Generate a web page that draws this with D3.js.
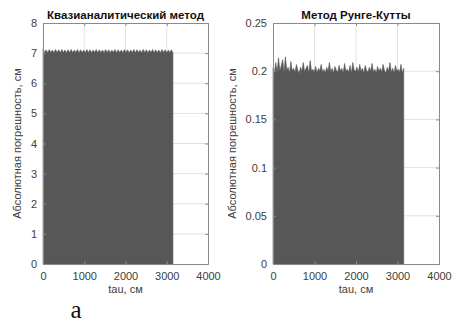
<!DOCTYPE html>
<html>
<head>
<meta charset="utf-8">
<script src="https://cdn.jsdelivr.net/npm/d3@7/dist/d3.min.js"></script>
<style>
  body { margin: 0; background: #fff; }
  svg { display: block; font-family: "Liberation Sans", Arial, sans-serif; }
</style>
</head>
<body>
<div class="container"></div>
<script>
// samples span tau = 0 .. tauEnd
const tauEnd = 3150;

// Квазианалитический метод: comb-like top edge
const quasiValues = [
  7.14, 7.02, 7.11, 7.01, 7.12, 7.02, 7.10, 7.01, 7.12, 7.02, 7.11, 7.01, 7.12, 7.02,
  7.10, 7.01, 7.11, 7.02, 7.12, 7.01, 7.10, 7.02, 7.12, 7.01, 7.11, 7.02, 7.10, 7.01,
  7.12, 7.02, 7.11, 7.01, 7.10, 7.02, 7.12, 7.01, 7.11, 7.02, 7.10, 7.01, 7.12, 7.02,
  7.11, 7.01, 7.10, 7.02, 7.12, 7.01, 7.11, 7.02, 7.10, 7.01, 7.12, 7.02, 7.11, 7.01,
  7.10, 7.02, 7.12, 7.01, 7.11, 7.02, 7.10, 7.01, 7.12, 7.02, 7.11, 7.01, 7.10, 7.02,
  7.12, 7.01, 7.11, 7.02, 7.10, 7.01, 7.12, 7.02, 7.11, 7.01, 7.10, 7.02, 7.11, 7.01
];

// Метод Рунге-Кутты: noisy top edge around 0.2
const rkValues = [
  0.203, 0.198, 0.209, 0.199, 0.214, 0.200, 0.206, 0.212, 0.199, 0.215, 0.201, 0.204,
  0.198, 0.210, 0.200, 0.203, 0.199, 0.207, 0.201, 0.198, 0.204, 0.200, 0.209, 0.199,
  0.203, 0.206, 0.198, 0.211, 0.200, 0.202, 0.199, 0.205, 0.198, 0.203, 0.200, 0.207,
  0.199, 0.202, 0.198, 0.204, 0.200, 0.209, 0.199, 0.203, 0.198, 0.205, 0.201, 0.199,
  0.206, 0.200, 0.203, 0.198, 0.208, 0.200, 0.202, 0.199, 0.206, 0.198, 0.209, 0.201,
  0.200, 0.204, 0.199, 0.207, 0.200, 0.203, 0.198, 0.206, 0.201, 0.199, 0.204, 0.200,
  0.208, 0.199, 0.202, 0.198, 0.205, 0.200, 0.203, 0.199, 0.207, 0.201, 0.198, 0.204,
  0.200, 0.209, 0.199, 0.203, 0.198, 0.206, 0.200, 0.202, 0.199, 0.207, 0.198, 0.203
];

const xTicks = [0, 1000, 2000, 3000, 4000];
const quasiTicks = [0, 1, 2, 3, 4, 5, 6, 7, 8];
const rkTicks = [0, 0.05, 0.1, 0.15, 0.2, 0.25];

const width = 454, height = 324;
const svg = d3.select('.container').append('svg')
  .attr('width', width)
  .attr('height', height);

function panel(opts) {
  const x = d3.scaleLinear().domain([0, 4000]).range([opts.left, opts.right]);
  const y = d3.scaleLinear().domain([0, opts.yMax]).range([264, 23]);
  const g = svg.append('g');

  // grid
  g.append('g').selectAll('line').data(xTicks.slice(1, -1)).join('line')
    .attr('x1', d => x(d)).attr('x2', d => x(d))
    .attr('y1', y(0)).attr('y2', y(opts.yMax))
    .attr('stroke', '#e2e2e2');
  g.append('g').selectAll('line').data(opts.yTicks.slice(1, -1)).join('line')
    .attr('x1', x(0)).attr('x2', x(4000))
    .attr('y1', d => y(d)).attr('y2', d => y(d))
    .attr('stroke', '#e2e2e2');

  // data
  const n = opts.values.length;
  const pts = opts.values.map((v, i) => [i * tauEnd / (n - 1), v]);
  const area = d3.area()
    .x(d => x(d[0]))
    .y0(y(0))
    .y1(d => y(d[1]))
    .curve(d3.curveLinear);
  g.append('path').datum(pts)
    .attr('d', area)
    .attr('fill', '#575757')
    .attr('stroke', '#575757')
    .attr('stroke-width', 0.6);

  // axes (MATLAB style, ticks inside)
  const xAxis = d3.axisBottom(x).tickValues(xTicks).tickSize(-3).tickPadding(8).tickFormat(d3.format('d'));
  const yAxis = d3.axisLeft(y).tickValues(opts.yTicks).tickSize(-3).tickPadding(6).tickFormat(opts.fmt);
  const xa = g.append('g').attr('transform', `translate(0,${y(0)})`).call(xAxis);
  const ya = g.append('g').attr('transform', `translate(${x(0)},0)`).call(yAxis);
  const xTop = g.append('g').attr('transform', `translate(0,${y(opts.yMax)})`)
    .call(d3.axisTop(x).tickValues(xTicks).tickSize(-3).tickFormat(''));
  const yRight = g.append('g').attr('transform', `translate(${x(4000)},0)`)
    .call(d3.axisRight(y).tickValues(opts.yTicks).tickSize(-3).tickFormat(''));
  [xa, ya, xTop, yRight].forEach(a => {
    a.selectAll('path').attr('stroke', '#8a8a8a');
    a.selectAll('line').attr('stroke', '#8a8a8a');
    a.selectAll('text').attr('fill', '#404040').attr('font-size', 11);
  });

  // labels
  g.append('text')
    .attr('x', (opts.left + opts.right) / 2).attr('y', 19)
    .attr('text-anchor', 'middle')
    .attr('font-size', 11.5).attr('font-weight', 'bold').attr('fill', '#111')
    .text(opts.title);
  g.append('text')
    .attr('x', (opts.left + opts.right) / 2).attr('y', 293)
    .attr('text-anchor', 'middle')
    .attr('font-size', 11).attr('fill', '#404040')
    .text('tau, см');
  g.append('text')
    .attr('transform', `translate(${opts.labelX},${(y(0) + y(opts.yMax)) / 2}) rotate(-90)`)
    .attr('text-anchor', 'middle')
    .attr('font-size', 11).attr('fill', '#404040')
    .text('Абсолютная погрешность, см');
}

panel({
  left: 43, right: 208, yMax: 8, values: quasiValues, yTicks: quasiTicks,
  fmt: d3.format('d'), title: 'Квазианалитический метод', labelX: 21
});
panel({
  left: 273, right: 439, yMax: 0.25, values: rkValues, yTicks: rkTicks,
  fmt: d => (d === 0 ? '0' : String(d)), title: 'Метод Рунге-Кутты', labelX: 236
});

svg.append('text')
  .attr('x', 76).attr('y', 318)
  .attr('text-anchor', 'middle')
  .attr('font-family', '"Liberation Serif", "Times New Roman", serif')
  .attr('font-size', 25).attr('fill', '#111')
  .text('а');
</script>
</body>
</html>
